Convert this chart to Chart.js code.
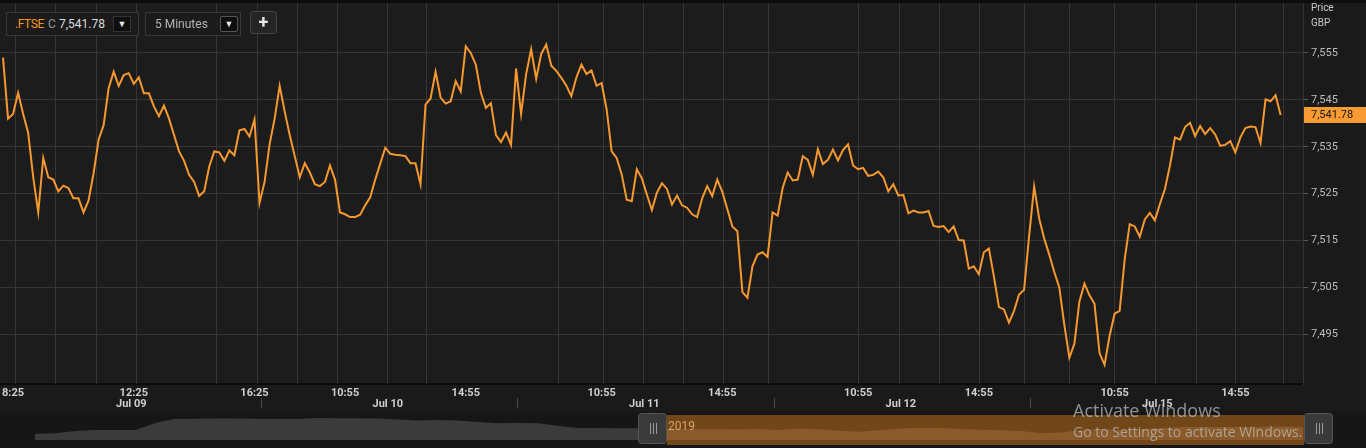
<!DOCTYPE html>
<html><head><meta charset="utf-8">
<script src="https://cdn.jsdelivr.net/npm/chart.js@4.4.1/dist/chart.umd.min.js"></script>
<style>
html,body{margin:0;padding:0;background:#1a1a1a;width:1366px;height:448px;overflow:hidden;font-family:Roboto,"Liberation Sans",sans-serif;}
#main{position:absolute;left:0;top:0;}
#nav{position:absolute;left:0;top:412px;}
.box{position:absolute;box-sizing:border-box;background:#1b1b1b;border:1px solid #383838;height:24px;top:12px;font-size:12px;line-height:22px;}
.dd{position:absolute;top:3px;width:18px;height:16px;background:#0e0e0e;border:1px solid #333;box-sizing:border-box;color:#e6e6e6;font-size:9px;line-height:15px;text-align:center;}
#plus{position:absolute;left:250px;top:11px;width:27px;height:23px;box-sizing:border-box;background:#252525;border:1px solid #444;border-radius:3px;color:#e8e8e8;font-size:18px;font-weight:bold;line-height:20px;text-align:center;}
.wm{position:absolute;left:1073px;color:rgba(190,190,190,0.72);font-family:"Open Sans","Noto Sans",sans-serif;white-space:nowrap;}
#topband{position:absolute;left:0;top:0;width:1366px;height:3px;background:#0d0d0d;}
</style></head>
<body>
<canvas id="main" width="1366" height="412"></canvas>
<canvas id="nav" width="1366" height="36"></canvas>
<div id="topband"></div>
<div class="box" style="left:6px;width:133px;">
  <span style="position:absolute;left:8px;color:#f7941d;letter-spacing:-0.4px;">.FTSE</span>
  <span style="position:absolute;left:41px;color:#9a9a9a;">C</span>
  <span style="position:absolute;left:52px;color:#dcdcdc;">7,541.78</span>
  <div class="dd" style="left:106px;">&#9660;</div>
</div>
<div class="box" style="left:145px;width:96px;">
  <span style="position:absolute;left:9px;color:#b4b4b4;">5 Minutes</span>
  <div class="dd" style="left:74px;border-radius:2px;border-color:#555;">&#9660;</div>
</div>
<div id="plus">+</div>
<div class="wm" style="top:398px;font-size:18px;">Activate Windows</div>
<div class="wm" style="top:422px;font-size:14px;">Go to Settings to activate Windows.</div>
<script>
// ---- data ----
const days = ['Jul 09', 'Jul 10', 'Jul 11', 'Jul 12', 'Jul 15'];
const sampleTimes = ['08:05','08:15','08:25','08:35','08:45','08:55','09:05','09:15','09:25','09:35','09:45','09:55','10:05','10:15','10:25','10:35','10:45','10:55','11:05','11:15','11:25','11:35','11:45','11:55','12:05','12:15','12:25','12:35','12:45','12:55','13:05','13:15','13:25','13:35','13:45','13:55','14:05','14:15','14:25','14:35','14:45','14:55','15:05','15:15','15:25','15:35','15:45','15:55','16:05','16:15','16:25'];
const jul09 = [7554, 7541, 7542, 7546.5, 7542, 7538, 7528.5, 7521, 7532.6, 7528.5, 7528, 7525.5, 7526.7, 7526.2, 7524, 7524, 7521, 7523.5, 7529.3, 7536.5, 7539.6, 7547.5, 7551, 7548, 7550.3, 7550.7, 7548.4, 7549.8, 7546.4, 7546.4, 7543.6, 7541.5, 7543.8, 7541, 7537.5, 7534, 7532, 7529, 7527.5, 7524.5, 7525.5, 7530.8, 7534, 7533.8, 7532, 7534.2, 7533.2, 7538.5, 7538.8, 7537.2, 7540.8];
const jul10 = [7523, 7527.5, 7535.5, 7541, 7548, 7542.5, 7537.5, 7533, 7528.5, 7531.5, 7529.5, 7527, 7526.6, 7527.5, 7531, 7528, 7521, 7520.6, 7520, 7520, 7520.5, 7522.5, 7524.2, 7528, 7531.4, 7534.8, 7533.5, 7533.3, 7533.2, 7533, 7531.5, 7531.5, 7527, 7544, 7545.3, 7551, 7545.5, 7544.2, 7544.7, 7549, 7546.8, 7556.4, 7555, 7552.5, 7546.5, 7543.3, 7544.3, 7537.5, 7536, 7538, 7535.4];
const jul11 = [7551.7, 7542, 7550.5, 7555.8, 7549.5, 7554.8, 7556.8, 7552.3, 7551.2, 7549.7, 7548, 7545.8, 7549.8, 7552.5, 7550.5, 7551.3, 7548, 7548.6, 7543, 7534, 7532.6, 7529.1, 7523.7, 7523.4, 7530.2, 7528.3, 7524.8, 7521.5, 7525.2, 7527.2, 7526, 7522.7, 7524.6, 7522.5, 7522, 7520.6, 7520, 7524, 7526.6, 7524.5, 7528, 7525.4, 7521.7, 7518, 7517, 7504, 7502.8, 7509.5, 7512, 7512.5, 7511.5];
const jul12 = [7521, 7520.3, 7526.2, 7529.5, 7527.8, 7528, 7533, 7532.2, 7529, 7534.5, 7531.3, 7532.2, 7534.4, 7532.1, 7534.3, 7535.5, 7531, 7530.2, 7530.5, 7528.8, 7529, 7529.7, 7528.5, 7525.5, 7527, 7524.6, 7524.7, 7520.8, 7521.4, 7521, 7521, 7521.3, 7518.1, 7517.9, 7518.1, 7516.8, 7518, 7515.1, 7515, 7509, 7509.5, 7507.8, 7512.5, 7513.3, 7507.3, 7500.8, 7500.3, 7497.5, 7500, 7503.5, 7504.5];
const jul15 = [7516, 7526.5, 7519.7, 7515.4, 7512, 7508.3, 7505, 7497, 7490, 7493, 7502, 7505.8, 7503.3, 7501.5, 7491, 7488.5, 7494.7, 7499.4, 7500, 7511, 7518.5, 7518, 7515.8, 7519.5, 7520.9, 7519.3, 7522.8, 7526, 7531, 7537, 7536.5, 7539.2, 7540.1, 7537.3, 7539.4, 7537.7, 7539, 7537.6, 7535.2, 7535.4, 7536.2, 7533.8, 7537, 7539, 7539.3, 7539.2, 7535.8, 7545.1, 7544.7, 7546, 7541.78];
const dayValues = [jul09, jul10, jul11, jul12, jul15];
const yTicks = [7495, 7505, 7515, 7525, 7535, 7545, 7555];
const timeTicks = [[0,'08:25'],[0,'12:25'],[0,'16:25'],[1,'10:55'],[1,'14:55'],[2,'10:55'],[2,'14:55'],[3,'10:55'],[3,'14:55'],[4,'10:55'],[4,'14:55']];
// vertical grid line positions (in 5-minute bar units)
const gridLineBars = [5.8, 21.7, 37.9, 53.8, 85.7, 101.9, 117.8, 133.7, 153.6, 169.2, 221.5, 239.4, 255.3, 271.5, 287.4, 305.3, 341.1, 357.4, 373.3, 389.2, 407.1, 425, 442.9, 459, 475.2, 491, 510.1];
const lastPrice = 7541.78;
const navValues = [6, 6.7, 9, 10, 10, 10, 17.3, 21.3, 21.3, 21.5, 21.5, 21.3, 21, 21, 22, 21.7, 21.7, 21.5, 20.5, 19.5, 20, 19.5, 18, 16.7, 17, 16.7, 14, 12, 12, 11.7, 11.7, 11.5, 11, 10.7, 10.7, 10.5, 11, 10, 11.5, 10.5, 9.3, 8.3, 10, 11.5, 12.3, 12, 11, 10.3, 9.8, 9, 6.7, 7.5, 10, 11, 10, 11, 12, 13, 13, 13, 13, 13.2, 13.5, 13];
const navWindowStart = 31;

// ---- helpers ----
const BARS_PER_DAY = 102;
function barOf(d, t) { const [h, m] = t.split(':').map(Number); return d * BARS_PER_DAY + (h * 60 + m - 480) / 5; }
const points = [];
dayValues.forEach((vals, d) => vals.forEach((v, k) => points.push({ x: barOf(d, sampleTimes[k]), y: v })));
const fmt = v => v.toLocaleString('en-US');
const LINE = '#f5982f';
const FONT = 'Roboto, "Liberation Sans", sans-serif';
const noPad = s => { s.paddingTop = 0; s.paddingBottom = 0; s.paddingLeft = 0; s.paddingRight = 0; };

const decor = {
  id: 'decor',
  beforeDraw(chart) {
    const { ctx, chartArea: a } = chart;
    ctx.save();
    ctx.fillStyle = '#1a1a1a'; ctx.fillRect(0, 0, chart.width, chart.height);
    ctx.fillStyle = '#1c1c1c'; ctx.fillRect(a.left, a.top, a.right - a.left, a.bottom - a.top);
    ctx.restore();
  },
  beforeDatasetsDraw(chart) {
    const { ctx, chartArea: a, scales: { x } } = chart;
    ctx.save(); ctx.strokeStyle = '#363636'; ctx.lineWidth = 1;
    gridLineBars.forEach(b => {
      const px = Math.round(x.getPixelForValue(b)) + 0.5;
      ctx.beginPath(); ctx.moveTo(px, a.top); ctx.lineTo(px, a.bottom); ctx.stroke();
    });
    ctx.restore();
  },
  afterDraw(chart) {
    const { ctx, chartArea: a, scales: { x, y } } = chart;
    ctx.save();
    // date row
    ctx.font = 'bold 11px ' + FONT; ctx.fillStyle = '#cfcfcf'; ctx.textAlign = 'center'; ctx.textBaseline = 'middle';
    days.forEach((d, i) => ctx.fillText(d, x.getPixelForValue(i * BARS_PER_DAY + 52), 404));
    ctx.strokeStyle = '#4a4a4a'; ctx.lineWidth = 1;
    for (let i = 1; i < days.length; i++) {
      const px = Math.round(x.getPixelForValue(i * BARS_PER_DAY + 1.5)) + 0.5;
      ctx.beginPath(); ctx.moveTo(px, 398); ctx.lineTo(px, 408); ctx.stroke();
    }
    // last price tag
    const py = Math.round(y.getPixelForValue(lastPrice));
    ctx.fillStyle = '#f89b33'; ctx.fillRect(a.right + 1, py - 8, chart.width - a.right - 1, 16);
    ctx.fillStyle = '#151515'; ctx.textAlign = 'left'; ctx.font = '11px ' + FONT;
    ctx.fillText(fmt(lastPrice), a.right + 8, py + 0.5);
    // header
    ctx.fillStyle = '#c8c8c8'; ctx.font = '10px ' + FONT;
    ctx.fillText('Price', a.right + 8, 8.5);
    ctx.fillText('GBP', a.right + 8, 23.5);
    ctx.restore();
  }
};

new Chart(document.getElementById('main'), {
  type: 'line',
  data: { datasets: [{ data: points, borderColor: LINE, borderWidth: 2, pointRadius: 0, tension: 0, fill: false }] },
  options: {
    responsive: false, animation: false,
    layout: { padding: 0 },
    plugins: { legend: { display: false }, tooltip: { enabled: false } },
    scales: {
      x: {
        type: 'linear', position: 'bottom', min: -0.2, max: 517.9,
        afterBuildTicks: s => { s.ticks = timeTicks.map(t => ({ value: barOf(t[0], t[1]) })); },
        afterFit: s => { s.height = 28; noPad(s); },
        grid: { display: true, drawOnChartArea: false, drawTicks: false },
        border: { display: true, color: '#0b0b0b', width: 2 },
        ticks: { color: '#cfcfcf', font: { family: FONT, size: 11, weight: 'bold' }, padding: 3, maxRotation: 0, autoSkip: false,
          callback: (v, i) => timeTicks[i] ? timeTicks[i][1].replace(/^0/, '') : '' }
      },
      y: {
        type: 'linear', position: 'right', min: 7484.4, max: 7566.3,
        afterBuildTicks: s => { s.ticks = yTicks.map(v => ({ value: v })); },
        afterFit: s => { s.width = 63; noPad(s); },
        grid: { color: '#363636', lineWidth: 1, drawTicks: true, tickLength: 5, tickColor: '#555' },
        border: { display: true, color: '#333' },
        ticks: { color: '#bdbdbd', font: { family: FONT, size: 11 }, padding: 3, callback: v => fmt(v) }
      }
    }
  },
  plugins: [decor]
});

// ---- navigator ----
const navDecor = {
  id: 'navDecor',
  beforeDraw(chart) {
    const { ctx } = chart;
    ctx.save(); ctx.fillStyle = '#161616'; ctx.fillRect(0, 0, chart.width, chart.height); ctx.restore();
  },
  beforeDatasetsDraw(chart) {
    const { ctx } = chart;
    ctx.save(); ctx.fillStyle = '#714619'; ctx.fillRect(667, 3, 637, 30); ctx.restore();
  },
  afterDraw(chart) {
    const { ctx } = chart;
    ctx.save();
    ctx.fillStyle = '#d9a369'; ctx.font = '12px ' + FONT; ctx.textBaseline = 'middle';
    ctx.fillText('2019', 668, 15);
    [[638, 667], [1304, 1333]].forEach(([l, r]) => {
      ctx.fillStyle = '#3a3a3a'; ctx.strokeStyle = '#555';
      ctx.beginPath(); ctx.roundRect(l + 0.5, 1.5, r - l - 1, 30, 3); ctx.fill(); ctx.stroke();
      ctx.strokeStyle = '#9a9a9a';
      const c = Math.round((l + r) / 2);
      [-3, 0, 3].forEach(o => { ctx.beginPath(); ctx.moveTo(c + o + 0.5, 11); ctx.lineTo(c + o + 0.5, 22); ctx.stroke(); });
    });
    ctx.restore();
  }
};
new Chart(document.getElementById('nav'), {
  type: 'line',
  data: {
    labels: navValues.map((_, i) => i),
    datasets: [
      { data: navValues.map((v, i) => i <= navWindowStart ? v : null), fill: 'origin', backgroundColor: '#3b3b3b', borderWidth: 0, pointRadius: 0 },
      { data: navValues.map((v, i) => i >= navWindowStart ? v : null), fill: 'origin', backgroundColor: '#8a5a2a', borderWidth: 0, pointRadius: 0 }
    ]
  },
  options: {
    responsive: false, animation: false,
    layout: { padding: { left: 35, right: 63, top: 3, bottom: 8 } },
    plugins: { legend: { display: false }, tooltip: { enabled: false } },
    scales: { x: { display: false, offset: false }, y: { display: false, min: 0, max: 25 } }
  },
  plugins: [navDecor]
});
</script>
</body></html>
